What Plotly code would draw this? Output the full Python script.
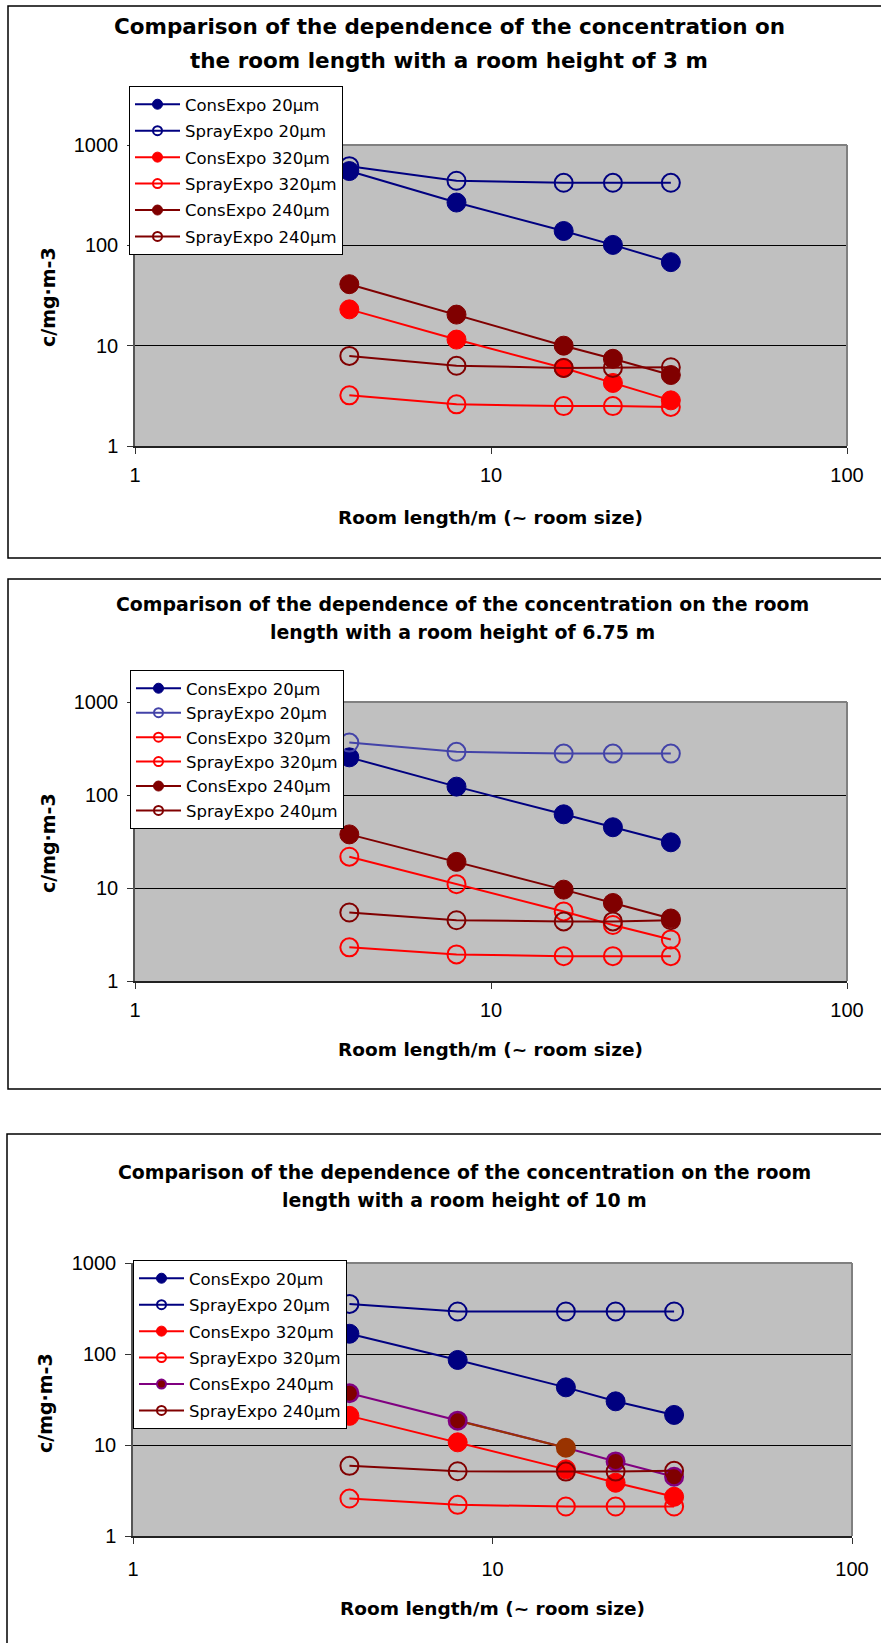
import plotly.graph_objects as go

W, H = 881, 1643


def px(x):
    return x / W


def py(y):
    return 1 - y / H


# ---------------- data ----------------
room_length = [4, 8, 16, 22, 32]
series_names = ["ConsExpo 20µm", "SprayExpo 20µm", "ConsExpo 320µm",
                "SprayExpo 320µm", "ConsExpo 240µm", "SprayExpo 240µm"]

# room height 3 m
h3_cons20 = [550, 267, 139, 101, 68]
h3_spray20 = [615, 440, 420, 420, 420]
h3_cons320 = [23, 11.5, 6.0, 4.25, 2.85]
h3_spray320 = [3.2, 2.6, 2.5, 2.5, 2.45]
h3_cons240 = [41, 20.4, 10, 7.4, 5.1]
h3_spray240 = [7.9, 6.3, 6.0, 6.0, 6.1]

# room height 6.75 m
h675_cons20 = [254, 123, 62, 45, 31]
h675_spray20 = [366, 291, 279, 279, 279]
h675_cons320 = [21.7, 11.0, 5.6, 4.0, 2.8]
h675_spray320 = [2.3, 1.93, 1.85, 1.85, 1.85]
h675_cons240 = [37.7, 19.1, 9.6, 6.9, 4.7]
h675_spray240 = [5.45, 4.5, 4.37, 4.37, 4.5]

# room height 10 m
h10_cons20 = [167, 86, 43, 30.2, 21.4]
h10_spray20 = [355, 293, 293, 293, 293]
h10_cons320 = [20.9, 10.7, 5.4, 3.85, 2.7]
h10_spray320 = [2.58, 2.2, 2.11, 2.11, 2.11]
h10_cons240 = [37, 18.5, 9.34, 6.6, 4.48]
h10_spray240 = [5.9, 5.15, 5.1, 5.1, 5.2]

x_tick_vals = [1, 10, 100]
x_tick_text = ["1", "10", "100"]
y_tick_vals = [1, 10, 100, 1000]
y_tick_text = ["1", "10", "100", "1000"]

title_lines = [
    ["Comparison of the dependence of the concentration on",
     "the room length with a room height of 3 m"],
    ["Comparison of the dependence of the concentration on the room",
     "length with a room height of 6.75 m"],
    ["Comparison of the dependence of the concentration on the room",
     "length with a room height of 10 m"],
]
x_title = "Room length/m (~ room size)"
y_title = "c/mg·m-3"

# ---------------- styles ----------------
NAVY = "#000080"
RED = "#FF0000"
MAROON = "#800000"
PURPLE = "#800080"
BROWN = "#993300"
LBLUE = "#4343A8"

charts = [
    dict(data=[h3_cons20, h3_spray20, h3_cons320, h3_spray320, h3_cons240, h3_spray240],
         styles=[(NAVY, False), (NAVY, True), (RED, False), (RED, True), (MAROON, False), (MAROON, True)],
         plot=(135, 145, 847, 446), border=(8, 6, 900, 558),
         legend=(129, 86), gap=2, title_y=(26, 61), title_x=449, title_size=21.5,
         ytitle=(48, 297), xtitle=(491, 517), xstand=4),
    dict(data=[h675_cons20, h675_spray20, h675_cons320, h675_spray320, h675_cons240, h675_spray240],
         styles=[(NAVY, False), (LBLUE, True), (RED, True), (RED, True), (MAROON, False), (MAROON, True)],
         plot=(135, 702, 847, 981), border=(8, 579, 900, 1089),
         legend=(130, 670), gap=0, title_y=(604, 632), title_x=462, title_size=18.9,
         ytitle=(48, 843), xtitle=(491, 1049), xstand=4),
    dict(data=[h10_cons20, h10_spray20, h10_cons320, h10_spray320, h10_cons240, h10_spray240],
         styles=[(NAVY, False), (NAVY, True), (RED, False), (RED, True), ("special", False), (MAROON, True)],
         plot=(133, 1263, 852, 1536), border=(7, 1134, 900, 1700),
         legend=(133, 1260), gap=2, title_y=(1172, 1200), title_x=464, title_size=18.9,
         ytitle=(45, 1403), xtitle=(492, 1608), xstand=8),
]

fig = go.Figure()
shapes = []
annotations = []
layout = {}

for ci, ch in enumerate(charts):
    n = "" if ci == 0 else str(ci + 1)
    xa, ya = "x" + n, "y" + n
    leg = "legend" + n
    x0, y0, x1, y1 = ch["plot"]

    for si, (ys, (color, is_open)) in enumerate(zip(ch["data"], ch["styles"])):
        name = series_names[si]
        grp = f"c{ci}s{si}"
        if color == "special":
            fills = [MAROON, MAROON, BROWN, MAROON, MAROON]
            outl = [PURPLE, PURPLE, BROWN, PURPLE, PURPLE]
            fig.add_trace(go.Scatter(x=room_length, y=ys, mode="lines",
                                     line=dict(color=PURPLE, width=2),
                                     xaxis=xa, yaxis=ya, showlegend=False, hoverinfo="skip"))
            fig.add_trace(go.Scatter(x=room_length[1:3], y=ys[1:3], mode="lines",
                                     line=dict(color=BROWN, width=2),
                                     xaxis=xa, yaxis=ya, showlegend=False, hoverinfo="skip"))
            fig.add_trace(go.Scatter(x=room_length, y=ys, mode="markers",
                                     marker=dict(symbol="circle", size=17.5, color=fills,
                                                 line=dict(width=2.5, color=outl)),
                                     xaxis=xa, yaxis=ya, showlegend=False))
            fig.add_trace(go.Scatter(x=[None], y=[None], mode="lines+markers", name=name,
                                     line=dict(color=PURPLE, width=2),
                                     marker=dict(symbol="circle", size=9, color=MAROON,
                                                 line=dict(width=2, color=PURPLE)),
                                     xaxis=xa, yaxis=ya, legend=leg, legendgroup=grp))
            continue
        if is_open:
            mk = dict(symbol="circle-open", size=18, color=color, line=dict(width=2, color=color))
            lmk = dict(symbol="circle-open", size=9, color=color, line=dict(width=2, color=color))
        else:
            mk = dict(symbol="circle", size=19, color=color, line=dict(width=1, color=color))
            lmk = dict(symbol="circle", size=10, color=color, line=dict(width=1, color=color))
        fig.add_trace(go.Scatter(x=room_length, y=ys, mode="lines+markers",
                                 line=dict(color=color, width=2), marker=mk,
                                 xaxis=xa, yaxis=ya, showlegend=False))
        fig.add_trace(go.Scatter(x=[None], y=[None], mode="lines+markers", name=name,
                                 line=dict(color=color, width=2), marker=lmk,
                                 xaxis=xa, yaxis=ya, legend=leg, legendgroup=grp))

    layout["xaxis" + n] = dict(
        type="log", range=[0, 2], domain=[px(x0), px(x1)], anchor=ya, automargin=False,
        tickvals=x_tick_vals, ticktext=x_tick_text, ticks="outside", ticklen=6,
        tickcolor="#333333", tickwidth=1, showline=True, linecolor="#222222", linewidth=1.5,
        showgrid=False, zeroline=False, ticklabelstandoff=ch["xstand"],
        tickfont=dict(family="Liberation Sans, Arial", size=20, color="black"))
    layout["yaxis" + n] = dict(
        type="log", range=[0, 3], domain=[py(y1), py(y0)], anchor=xa, automargin=False,
        tickvals=y_tick_vals, ticktext=y_tick_text, ticks="outside", ticklen=6,
        tickcolor="#333333", tickwidth=1, showline=True, linecolor="#555555", linewidth=1.5,
        showgrid=True, gridcolor="black", gridwidth=1, zeroline=False, ticklabelstandoff=5,
        tickfont=dict(family="Liberation Sans, Arial", size=20, color="black"))

    lx, ly = ch["legend"]
    layout[leg] = dict(
        x=px(lx), y=py(ly), xanchor="left", yanchor="top", xref="paper", yref="paper",
        bgcolor="white", bordercolor="black", borderwidth=1,
        font=dict(family="DejaVu Sans", size=16.5, color="black"),
        itemwidth=45, tracegroupgap=ch["gap"], traceorder="grouped", itemsizing="trace")

    # chart frame
    bx0, by0, bx1, by1 = ch["border"]
    shapes.append(dict(type="rect", xref="paper", yref="paper",
                       x0=px(bx0), x1=px(bx1), y0=py(by1), y1=py(by0),
                       line=dict(color="black", width=1.5), fillcolor="rgba(0,0,0,0)", layer="below"))
    # plot area top / right gray border
    shapes.append(dict(type="line", xref="paper", yref="paper",
                       x0=px(x0), x1=px(x1), y0=py(y0), y1=py(y0),
                       line=dict(color="#808080", width=2), layer="above"))
    shapes.append(dict(type="line", xref="paper", yref="paper",
                       x0=px(x1), x1=px(x1), y0=py(y0), y1=py(y1),
                       line=dict(color="#808080", width=2), layer="above"))

    # titles
    for li, line in enumerate(title_lines[ci]):
        annotations.append(dict(text="<b>" + line + "</b>", x=px(ch["title_x"]), y=py(ch["title_y"][li]),
                                xref="paper", yref="paper", xanchor="center", yanchor="middle",
                                showarrow=False,
                                font=dict(family="DejaVu Sans", size=ch["title_size"], color="black")))
    annotations.append(dict(text="<b>" + x_title + "</b>", x=px(ch["xtitle"][0]), y=py(ch["xtitle"][1]),
                            xref="paper", yref="paper", xanchor="center", yanchor="middle",
                            showarrow=False, font=dict(family="DejaVu Sans", size=18.5, color="black")))
    annotations.append(dict(text="<b>" + y_title + "</b>", x=px(ch["ytitle"][0]), y=py(ch["ytitle"][1]),
                            xref="paper", yref="paper", xanchor="center", yanchor="middle",
                            textangle=-90, showarrow=False,
                            font=dict(family="DejaVu Sans", size=19, color="black")))

fig.update_layout(
    width=W, height=H, autosize=False, margin=dict(l=0, r=0, t=0, b=0, pad=0),
    paper_bgcolor="white", plot_bgcolor="#C0C0C0",
    shapes=shapes, annotations=annotations, **layout)

fig.write_html("out.html",
               post_script="document.body.style.margin='0px';document.body.style.overflow='hidden';")
